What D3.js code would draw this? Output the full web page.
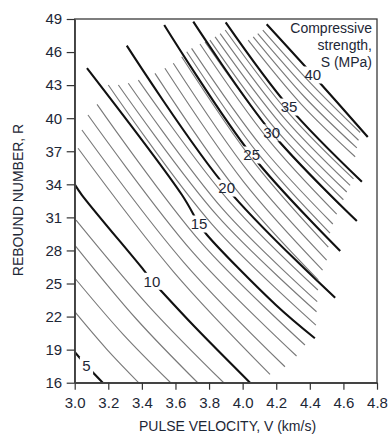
<!DOCTYPE html>
<html><head><meta charset="utf-8">
<script src="https://cdn.jsdelivr.net/npm/d3@7"></script>
<style>body{margin:0;background:#fff}svg{display:block}</style>
</head><body><svg id="c" width="390" height="434"></svg>
<script>
const xTicks = [3.0,3.2,3.4,3.6,3.8,4.0,4.2,4.4,4.6,4.8];
const yTicks = [16,19,22,25,28,31,34,37,40,43,46,49];
const levels = [5,6,7,8,9,10,11,12,13,14,15,16,17,18,19,20,21,22,23,24,25,26,27,28,29,30,31,32,33,34,35,36,37,38,39,40];
const contourPts = [
 [[3.0,18.8],[3.07,17.56],[3.167,16.0]],
 [[3.0,22.44],[3.19,19.05],[3.383,15.97]],
 [[3.0,25.5],[3.287,20.41],[3.573,15.97]],
 [[3.0,28.49],[3.367,21.78],[3.734,15.97]],
 [[3.008,30.76],[3.449,22.82],[3.889,15.97]],
 [[3.0,34.0],[3.043,33.03],[3.411,26.22],[3.46,25.25],[3.51,24.41],[3.716,21.05],[4.044,16.0]],
 [[3.02,37.27],[3.59,26.04],[4.163,16.76]],
 [[3.043,38.93],[3.648,26.95],[4.252,17.45]],
 [[3.079,40.29],[3.70,27.89],[4.321,18.42]],
 [[3.133,41.26],[3.752,28.73],[4.371,19.42]],
 [[3.073,44.55],[3.639,33.03],[3.74,30.4],[3.788,29.4],[4.198,23.05],[4.43,20.03]],
 [[3.2,43.01],[3.818,30.36],[4.436,21.23]],
 [[3.26,43.01],[3.85,31.13],[4.44,22.44]],
 [[3.319,43.17],[3.882,31.74],[4.444,23.35]],
 [[3.379,43.46],[3.914,32.57],[4.448,24.41]],
 [[3.31,46.58],[3.905,33.66],[4.551,23.71]],
 [[3.478,44.07],[3.964,33.47],[4.45,25.32]],
 [[3.537,44.53],[4.006,34.23],[4.476,26.22]],
 [[3.587,44.98],[4.044,34.93],[4.5,27.13]],
 [[3.637,45.58],[4.074,35.88],[4.51,28.31]],
 [[3.533,48.46],[4.054,36.66],[4.581,27.95]],
 [[3.667,46.03],[4.094,36.74],[4.52,29.58]],
 [[3.696,46.34],[4.117,37.34],[4.537,30.4]],
 [[3.746,46.73],[4.153,38.06],[4.56,31.3]],
 [[3.776,46.91],[4.178,38.58],[4.579,32.12]],
 [[3.706,48.76],[4.173,38.68],[4.68,30.67]],
 [[3.805,47.09],[4.2,38.93],[4.6,32.6]],
 [[3.836,47.38],[4.228,39.45],[4.62,33.3]],
 [[3.866,47.68],[4.253,39.92],[4.64,33.9]],
 [[3.896,48.0],[4.278,40.4],[4.66,34.5]],
 [[3.899,48.7],[4.276,41.01],[4.71,34.24]],
 [[4.033,47.08],[4.35,41.26],[4.67,36.5]],
 [[4.063,47.38],[4.37,41.9],[4.68,37.3]],
 [[4.09,47.68],[4.39,42.5],[4.69,38.0]],
 [[4.12,48.0],[4.41,43.1],[4.70,38.7]],
 [[4.143,48.52],[4.418,43.92],[4.745,38.29]]
];
const labelLevels = [5,10,15,20,25,30,35,40];
const labelPos = [[3.07,17.56],[3.46,25.2],[3.74,30.4],[3.905,33.66],[4.054,36.66],[4.173,38.68],[4.276,41.01],[4.418,43.92]];

const svg = d3.select('#c');
const x = d3.scaleLinear().domain([3.0,4.8]).range([74.7,377]);
const y = d3.scaleLinear().domain([16,49]).range([382.7,19]);
const txtCol = '#1d2736';
const font = 'Liberation Sans, Arial, Helvetica, sans-serif';

const defs = svg.append('defs');
defs.append('clipPath').attr('id','plotclip').append('rect')
  .attr('x',x(3.0)).attr('y',y(49)).attr('width',x(4.8)-x(3.0)).attr('height',y(16)-y(49));

labelLevels.forEach((lv,i)=>{
  const m = defs.append('mask').attr('id','m'+lv).attr('maskUnits','userSpaceOnUse')
    .attr('x',0).attr('y',0).attr('width',390).attr('height',434);
  m.append('rect').attr('x',0).attr('y',0).attr('width',390).attr('height',434).attr('fill','#fff');
  const w = String(lv).length*8.3+5;
  m.append('rect').attr('x',x(labelPos[i][0])-w/2).attr('y',y(labelPos[i][1])-8.5)
    .attr('width',w).attr('height',17).attr('fill','#000');
});

const line = d3.line().x(d=>x(d[0])).y(d=>y(d[1])).curve(d3.curveCatmullRom.alpha(0.5));
const g = svg.append('g').attr('clip-path','url(#plotclip)');
levels.forEach((lv,i)=>{
  const thick = lv%5===0;
  const p = g.append('path').datum(contourPts[i]).attr('d',line)
    .attr('fill','none')
    .attr('stroke',thick?'#111':'#7a7a7a')
    .attr('stroke-width',thick?2.1:1.15)
    .attr('stroke-linecap','butt');
  if(thick) p.attr('mask','url(#m'+lv+')');
});

labelLevels.forEach((lv,i)=>{
  svg.append('text').attr('x',x(labelPos[i][0])).attr('y',y(labelPos[i][1]))
    .attr('dy','0.36em').attr('text-anchor','middle')
    .attr('font-family',font).attr('font-size',15).attr('fill',txtCol).text(lv);
});

svg.append('rect').attr('x',x(3.0)).attr('y',y(49)).attr('width',x(4.8)-x(3.0)).attr('height',y(16)-y(49))
  .attr('fill','none').attr('stroke','#3a3a3a').attr('stroke-width',1.3);

const xa = svg.append('g').attr('transform',`translate(0,${y(16)})`)
  .call(d3.axisBottom(x).tickValues(xTicks).tickFormat(d3.format('.1f')).tickSize(7).tickSizeOuter(0));
const ya = svg.append('g').attr('transform',`translate(${x(3.0)},0)`)
  .call(d3.axisLeft(y).tickValues(yTicks).tickSize(8).tickSizeOuter(0));
[xa,ya].forEach(a=>{
  a.select('.domain').attr('stroke','#444').attr('stroke-width',1.5);
  a.selectAll('.tick line').attr('stroke','#333').attr('stroke-width',1.2);
  a.selectAll('.tick text').attr('font-family',font).attr('font-size',15).attr('fill',txtCol);
});
xa.selectAll('.tick text').attr('dy','1.05em');
ya.selectAll('.tick text').attr('dx','-0.1em');

svg.append('text').attr('x',227.5).attr('y',431).attr('text-anchor','middle')
  .attr('font-family',font).attr('font-size',14).attr('fill',txtCol).text('PULSE VELOCITY, V (km/s)');
svg.append('text').attr('transform','translate(23,200) rotate(-90)').attr('text-anchor','middle')
  .attr('font-family',font).attr('font-size',14).attr('fill',txtCol).text('REBOUND NUMBER, R');

const legend = ['Compressive','strength,','S (MPa)'];
legend.forEach((t,i)=>{
  svg.append('text').attr('x',372).attr('y',33+i*17).attr('text-anchor','end')
    .attr('font-family',font).attr('font-size',14).attr('fill',txtCol).text(t);
});
</script></body></html>
